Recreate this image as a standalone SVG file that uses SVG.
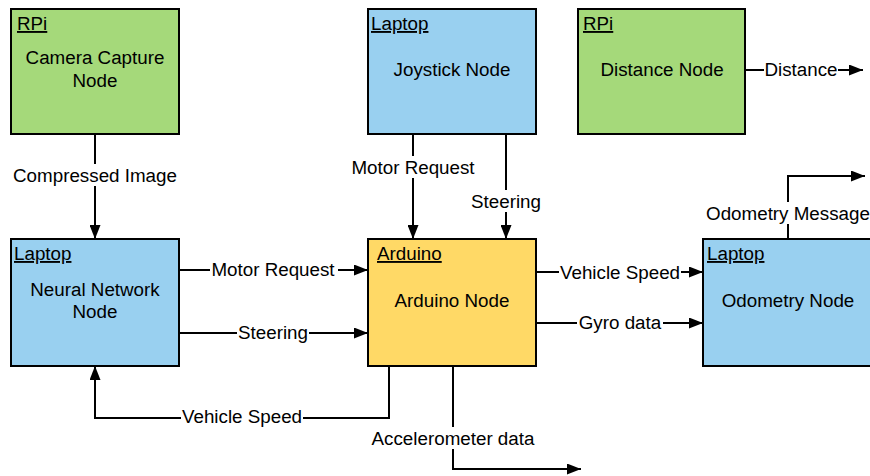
<svg xmlns="http://www.w3.org/2000/svg" width="870" height="476" viewBox="0 0 870 476">
<style>
.n{stroke:#000;stroke-width:2}
.g{fill:#a5d97a}.b{fill:#99d0f0}.y{fill:#ffd966}
text{font-family:"Liberation Sans",Arial,sans-serif;font-size:18.8px;fill:#000}
.c{text-anchor:middle}
.h{text-decoration:underline}
.l{fill:none;stroke:#000;stroke-width:2}
.bg{fill:#fff}
</style>
<defs>
<marker id="a" viewBox="0 0 14 11" refX="14" refY="5.5" markerWidth="14" markerHeight="11" markerUnits="userSpaceOnUse" orient="auto">
<path d="M0,0L14,5.5L0,11z" fill="#000"/>
</marker>
</defs>
<g id="camera"><rect class="n g" x="11" y="9" width="168" height="125"/><text class="h" x="17" y="30">RPi</text><text class="c" x="95" y="64">Camera Capture</text><text class="c" x="95" y="87">Node</text></g>
<g id="joystick"><rect class="n b" x="368" y="9" width="168" height="125"/><text class="h" x="371" y="30">Laptop</text><text class="c" x="452" y="76">Joystick Node</text></g>
<g id="distance"><rect class="n g" x="578" y="9" width="167" height="125"/><text class="h" x="583" y="30">RPi</text><text class="c" x="662" y="76">Distance Node</text></g>
<g id="neural"><rect class="n b" x="11" y="239" width="168" height="127"/><text class="h" x="14" y="260">Laptop</text><text class="c" x="95" y="296">Neural Network</text><text class="c" x="95" y="318">Node</text></g>
<g id="arduino"><rect class="n y" x="368" y="239" width="168" height="127"/><text class="h" x="377" y="260">Arduino</text><text class="c" x="452" y="307">Arduino Node</text></g>
<g id="odometry"><rect class="n b" x="703" y="239" width="172" height="127"/><text class="h" x="707" y="260">Laptop</text><text class="c" x="788" y="307">Odometry Node</text></g>
<g id="connectors">
<path class="l" d="M95,134V239" marker-end="url(#a)"/>
<rect class="bg" x="10" y="164" width="170" height="22"/><text class="c" x="95" y="182">Compressed Image</text>
<path class="l" d="M413,134V239" marker-end="url(#a)"/>
<rect class="bg" x="350" y="156" width="128" height="22"/><text class="c" x="413" y="174">Motor Request</text>
<path class="l" d="M506,134V239" marker-end="url(#a)"/>
<rect class="bg" x="470" y="190" width="72" height="22"/><text class="c" x="506" y="208">Steering</text>
<path class="l" d="M745,70H863" marker-end="url(#a)"/>
<rect class="bg" x="764" y="59" width="74" height="22"/><text class="c" x="801" y="76">Distance</text>
<path class="l" d="M179,270H368" marker-end="url(#a)"/>
<rect class="bg" x="210" y="259" width="128" height="22"/><text class="c" x="273" y="276">Motor Request</text>
<path class="l" d="M179,333H368" marker-end="url(#a)"/>
<rect class="bg" x="237" y="322" width="72" height="22"/><text class="c" x="273" y="339">Steering</text>
<path class="l" d="M536,272H703" marker-end="url(#a)"/>
<rect class="bg" x="559" y="261" width="122" height="22"/><text class="c" x="620" y="279">Vehicle Speed</text>
<path class="l" d="M536,323H703" marker-end="url(#a)"/>
<rect class="bg" x="577" y="312" width="86" height="22"/><text class="c" x="620" y="329">Gyro data</text>
<path class="l" d="M389,366V418H95V366" marker-end="url(#a)"/>
<rect class="bg" x="181" y="405" width="122" height="22"/><text class="c" x="242" y="423">Vehicle Speed</text>
<path class="l" d="M453,366V469H581" marker-end="url(#a)"/>
<rect class="bg" x="368" y="427" width="170" height="22"/><text class="c" x="453" y="445">Accelerometer data</text>
<path class="l" d="M788,239V176H865" marker-end="url(#a)"/>
<rect class="bg" x="705" y="202" width="166" height="22"/><text class="c" x="788" y="220">Odometry Message</text>
</g>
</svg>
